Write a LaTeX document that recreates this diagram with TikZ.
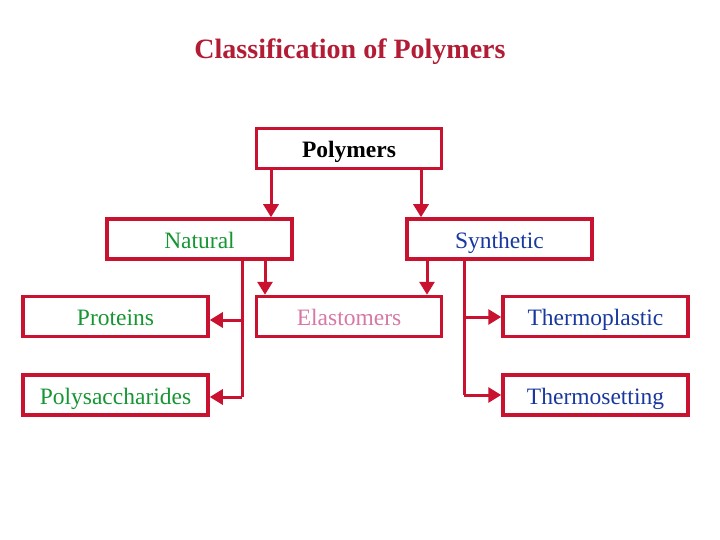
\documentclass[tikz,border=0pt]{standalone}
\usepackage{fontspec}
\setmainfont{Liberation Serif}
\usetikzlibrary{arrows.meta}
\definecolor{crim}{RGB}{200,18,48}
\definecolor{titlec}{RGB}{178,28,52}
\definecolor{natg}{RGB}{22,150,50}
\definecolor{elp}{RGB}{214,120,165}
\definecolor{synb}{RGB}{24,56,160}
\tikzset{
  box/.style={draw=crim, line width=3.5pt, minimum width=185pt, minimum height=40pt, inner sep=0pt,
    text height=20pt, text depth=2pt, font=\fontsize{23.5}{26}\selectfont},
  conn/.style={draw=crim, line width=3pt},
  arr/.style={conn, -{Triangle[length=13pt,width=15pt]}}
}
\begin{document}
\begin{tikzpicture}[x=1pt,y=-1pt]
\useasboundingbox (0,0) rectangle (720,540);
\node[text=titlec, font=\fontsize{28}{31}\bfseries\selectfont] (title) at (350,52) {Classification of Polymers};
\node[box, font=\fontsize{23.5}{26}\bfseries\selectfont] (poly) at (349,148.5) {Polymers};
\node[box, text=natg] (nat) at (199.5,239) {Natural};
\node[box, text=synb] (syn) at (499.5,239) {Synthetic};
\node[box, text=natg] (prot) at (115.5,316.5) {Proteins};
\node[box, text=elp] (elas) at (349,316.5) {Elastomers};
\node[box, text=synb] (tpl) at (595.5,316.5) {Thermoplastic};
\node[box, text=natg] (poly2) at (115.5,395) {Polysaccharides};
\node[box, text=synb] (tset) at (595.5,395) {Thermosetting};
% arrows from Polymers
\draw[arr] (poly.south -| 271,0) -- (nat.north -| 271,0);
\draw[arr] (poly.south -| 421,0) -- (syn.north -| 421,0);
% to Elastomers
\draw[arr] (nat.south -| 265,0) -- (elas.north -| 265,0);
\draw[arr] (syn.south -| 427,0) -- (elas.north -| 427,0);
% Natural branch
\coordinate (nb) at (242,397);
\draw[conn] (nat.south -| nb) -- (nb);
\draw[arr] (242,320) -- (prot.east |- 0,320);
\draw[arr] (nb) -- (poly2.east |- nb);
% Synthetic branch
\coordinate (sb) at (464,395);
\draw[conn] (syn.south -| sb) -- (sb);
\draw[arr] (464,317) -- (tpl.west |- 0,317);
\draw[arr] (sb) -- (tset.west |- sb);
\end{tikzpicture}
\end{document}
